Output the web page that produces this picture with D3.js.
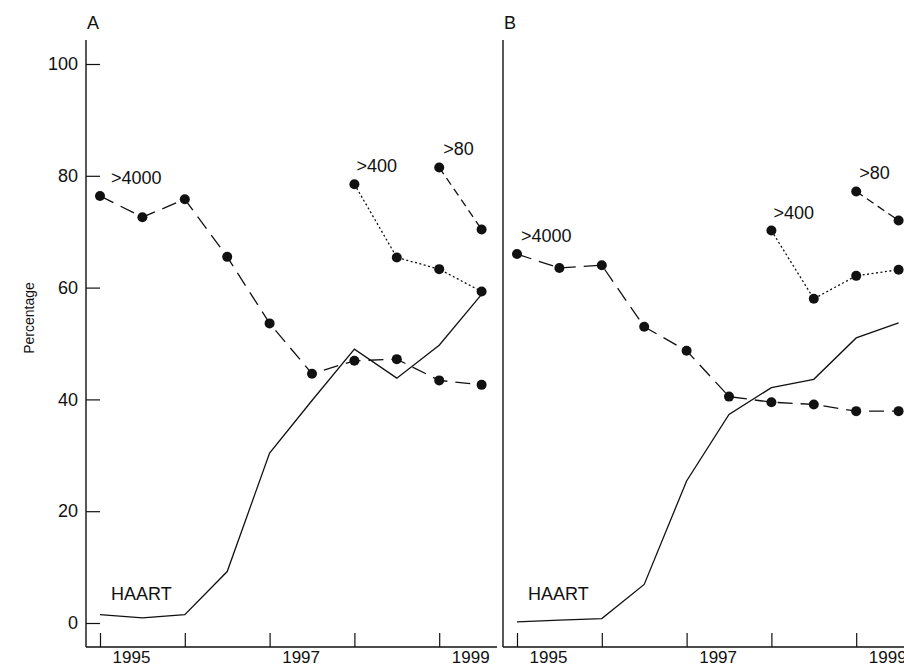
<!DOCTYPE html>
<html>
<head>
<meta charset="utf-8">
<script src="https://cdn.jsdelivr.net/npm/d3@7"></script>
<style>
  body { margin: 0; background: #fff; }
  svg text { font-family: "Liberation Sans", Arial, sans-serif; fill: #111; }
</style>
</head>
<body>
<svg id="chart" width="904" height="668"></svg>
<script>
// half-yearly time points
var years = [1995, 1995.5, 1996, 1996.5, 1997, 1997.5, 1998, 1998.5, 1999, 1999.5];
var yearTicks = [1995, 1996, 1997, 1998, 1999];
var yearLabels = [1995, 1997, 1999];
var pctTicks = [0, 20, 40, 60, 80, 100];

// panel A
var haartA  = [1.5, 0.9, 1.5, 9.2, 30.4, 39.8, 49.0, 43.8, 49.7, 58.8];
var over4000A = [76.4, 72.6, 75.8, 65.5, 53.6, 44.6, 46.9, 47.2, 43.4, 42.6];
var over400A  = [null, null, null, null, null, null, 78.5, 65.4, 63.3, 59.3];
var over80A   = [null, null, null, null, null, null, null, null, 81.5, 70.4];

// panel B
var haartB  = [0.2, 0.5, 0.8, 6.9, 25.4, 37.3, 42.1, 43.6, 51.0, 53.7];
var over4000B = [66.0, 63.5, 64.0, 53.0, 48.7, 40.5, 39.5, 39.1, 37.9, 37.9];
var over400B  = [null, null, null, null, null, null, 70.2, 58.0, 62.1, 63.2];
var over80B   = [null, null, null, null, null, null, null, null, 77.2, 72.0];

var svg = d3.select("#chart");

var y = d3.scaleLinear().domain([0, 100]).range([623, 64]);

var dashes = {
    haart: null,
    c4000: "15,8",
    c400: "2,2.5",
    c80: "8,5"
};

function drawPanel(left, letter, data, showY, lblShift) {
    var g = svg.append("g").attr("transform", "translate(" + left + ",0)");
    var x = d3.scaleLinear().domain([1995, 1999.5]).range([14, 395.6]);

    // axis lines
    g.append("line").attr("x1", 0).attr("x2", 0).attr("y1", 40).attr("y2", 647)
        .attr("stroke", "#111").attr("stroke-width", 1.4);
    g.append("line").attr("x1", 0).attr("x2", 411).attr("y1", 647).attr("y2", 647)
        .attr("stroke", "#111").attr("stroke-width", 1.4);

    var xAxis = d3.axisBottom(x).tickValues(yearTicks).tickSize(-14)
        .tickFormat(function(d) { return yearLabels.indexOf(d) >= 0 ? d : ""; });
    var xa = g.append("g").attr("transform", "translate(0,647)").call(xAxis);
    xa.select(".domain").remove();
    xa.selectAll("line").attr("stroke", "#111").attr("stroke-width", 1.2);
    xa.selectAll("text").attr("font-size", 17).attr("dx", 31).attr("y", 16)
        .attr("dy", 0).style("font-family", "Liberation Sans, Arial, sans-serif").attr("fill", "#111");

    if (showY) {
        var yAxis = d3.axisLeft(y).tickValues(pctTicks).tickSize(-14).tickPadding(8);
        var ya = g.append("g").call(yAxis);
        ya.select(".domain").remove();
        ya.selectAll("line").attr("stroke", "#111").attr("stroke-width", 1.2);
        ya.selectAll("text").attr("font-size", 18).attr("x", -8)
            .style("font-family", "Liberation Sans, Arial, sans-serif").attr("fill", "#111");
    }

    g.append("text").attr("x", 1).attr("y", 29).attr("font-size", 18).text(letter);

    var line = d3.line()
        .defined(function(d) { return d[1] != null; })
        .x(function(d) { return x(d[0]); })
        .y(function(d) { return y(d[1]); });

    data.forEach(function(s) {
        var pts = years.map(function(yr, i) { return [yr, s.values[i]]; });
        g.append("path").datum(pts).attr("d", line)
            .attr("fill", "none").attr("stroke", "#111").attr("stroke-width", 1.3)
            .attr("stroke-dasharray", dashes[s.key]);

        var valid = pts.filter(function(d) { return d[1] != null; });
        if (s.dots) {
            g.selectAll(null).data(valid).enter().append("circle")
                .attr("cx", function(d) { return x(d[0]); })
                .attr("cy", function(d) { return y(d[1]); })
                .attr("r", 5).attr("fill", "#111");
        }
        var first = valid[0];
        if (s.key === "haart") {
            g.append("text").attr("x", x(first[0]) + 11).attr("y", y(4.1))
                .attr("font-size", 18).text(s.label);
        } else {
            var dx = lblShift[s.key] || 3;
            g.append("text").attr("x", x(first[0]) + dx).attr("y", y(first[1]) - 12)
                .attr("font-size", 18).text(s.label);
        }
    });
}

drawPanel(86, "A", [
    { key: "haart", label: "HAART", values: haartA, dots: false },
    { key: "c4000", label: ">4000", values: over4000A, dots: true },
    { key: "c400", label: ">400", values: over400A, dots: true },
    { key: "c80", label: ">80", values: over80A, dots: true }
], true, { c4000: 11, c400: 2, c80: 4 });

drawPanel(503, "B", [
    { key: "haart", label: "HAART", values: haartB, dots: false },
    { key: "c4000", label: ">4000", values: over4000B, dots: true },
    { key: "c400", label: ">400", values: over400B, dots: true },
    { key: "c80", label: ">80", values: over80B, dots: true }
], false, { c4000: 4, c400: 2, c80: 3 });

svg.append("text")
    .attr("transform", "translate(34,318) rotate(-90)")
    .attr("text-anchor", "middle").attr("font-size", 14)
    .text("Percentage");
</script>
</body>
</html>
